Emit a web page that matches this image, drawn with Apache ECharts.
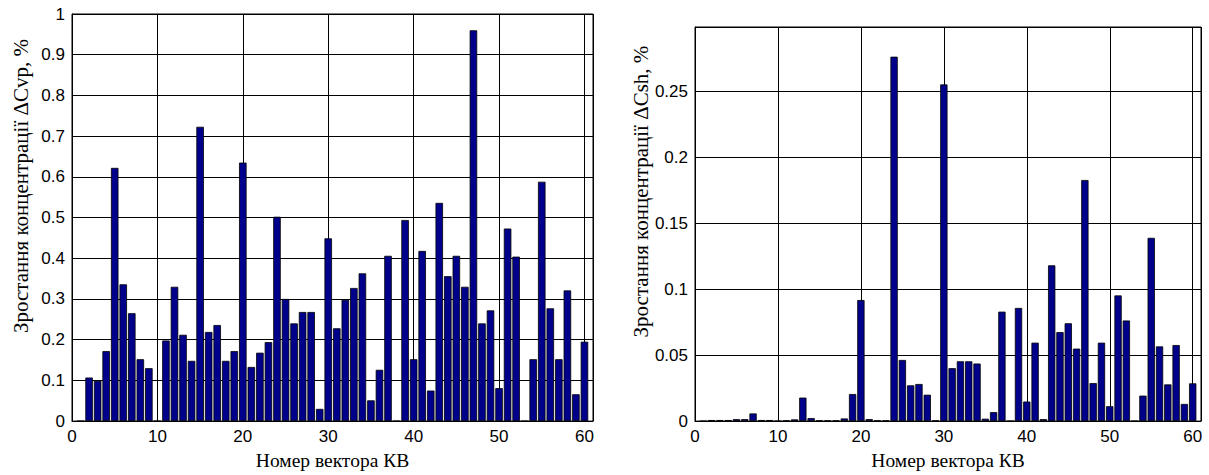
<!DOCTYPE html>
<html>
<head>
<meta charset="utf-8">
<script src="https://cdn.jsdelivr.net/npm/echarts@6/dist/echarts.min.js"></script>
<style>
html,body{margin:0;padding:0;background:#fff;}
#chart{width:1209px;height:475px;}
</style>
</head>
<body>
<div id="chart"></div>
<script>
// Vector numbers (x categories)
var vectorNumbers = [1,2,3,4,5,6,7,8,9,10,11,12,13,14,15,16,17,18,19,20,
  21,22,23,24,25,26,27,28,29,30,31,32,33,34,35,36,37,38,39,40,
  41,42,43,44,45,46,47,48,49,50,51,52,53,54,55,56,57,58,59,60];

// Left chart: growth of concentration ΔCvp, %
var dCvp = [0, 0.107, 0.099, 0.172, 0.622, 0.336, 0.265, 0.152, 0.130, 0,
  0.198, 0.330, 0.212, 0.148, 0.723, 0.219, 0.236, 0.148, 0.172, 0.635,
  0.133, 0.168, 0.194, 0.502, 0.300, 0.240, 0.268, 0.268, 0.030, 0.449,
  0.228, 0.298, 0.327, 0.363, 0.051, 0.126, 0.406, 0, 0.494, 0.152,
  0.418, 0.075, 0.536, 0.356, 0.406, 0.330, 0.960, 0.240, 0.272, 0.081,
  0.473, 0.404, 0, 0.152, 0.588, 0.277, 0.152, 0.321, 0.066, 0.195];

// Right chart: growth of concentration ΔCsh, %
var dCsh = [0, 0.0008, 0.0008, 0.0008, 0.0015, 0.0015, 0.0058, 0.0008, 0.0008, 0,
  0.0005, 0.0013, 0.0178, 0.0023, 0.0005, 0.0005, 0.0005, 0.0020, 0.0205, 0.0917,
  0.0015, 0.0005, 0.0005, 0.276, 0.0463, 0.0271, 0.0281, 0.0200, 0.0005, 0.255,
  0.0401, 0.0453, 0.0453, 0.0436, 0.0018, 0.0068, 0.0829, 0, 0.0857, 0.0148,
  0.0594, 0.0015, 0.118, 0.0674, 0.0741, 0.0549, 0.1826, 0.0288, 0.0594, 0.0113,
  0.0952, 0.0762, 0, 0.0193, 0.1388, 0.0566, 0.0278, 0.0576, 0.013, 0.0286];

var xTickLabels = [0, 10, 20, 30, 40, 50, 60];
var leftYTicks = [0, 0.1, 0.2, 0.3, 0.4, 0.5, 0.6, 0.7, 0.8, 0.9, 1];
var rightYTicks = [0, 0.05, 0.1, 0.15, 0.2, 0.25];

var xTitle = 'Номер вектора КВ';
var leftYTitle = 'Зростання концентрації ΔCvp, %';
var rightYTitle = 'Зростання концентрації ΔCsh, %';

function pairs(vals) {
  return vectorNumbers.map(function (x, i) { return [x, vals[i]]; });
}

var sans = '"Liberation Sans", Arial, sans-serif';
var serif = '"Liberation Serif", "Times New Roman", serif';

function xAxis(gridIndex) {
  return {
    type: 'value', gridIndex: gridIndex, min: 0, max: 61, interval: 10,
    name: xTitle, nameLocation: 'middle', nameGap: 27,
    nameTextStyle: {fontFamily: serif, fontSize: 19.5, color: '#000'},
    axisLine: {show: true, onZero: false, lineStyle: {color: '#000', width: 1}},
    axisTick: {show: true, inside: true, length: 5, lineStyle: {color: '#000'}},
    axisLabel: {
      fontFamily: sans, fontSize: 17, color: '#000', margin: 7,
      formatter: function (v) { return xTickLabels.indexOf(v) >= 0 ? String(v) : ''; }
    },
    splitLine: {show: true, lineStyle: {color: '#000', width: 1}}
  };
}

function yAxis(gridIndex, max, interval, ticks, title, gap, shiftPad) {
  return {
    type: 'value', gridIndex: gridIndex, min: 0, max: max, interval: interval,
    name: title, nameLocation: 'middle', nameGap: gap,
    nameTextStyle: {fontFamily: serif, fontSize: 21, color: '#000', padding: [0, 0, 0, shiftPad]},
    axisLine: {show: true, lineStyle: {color: '#000', width: 1}},
    axisTick: {show: true, inside: true, length: 5, lineStyle: {color: '#000'}},
    axisLabel: {
      fontFamily: sans, fontSize: 17, color: '#000', margin: 7,
      formatter: function (v) {
        for (var i = 0; i < ticks.length; i++) {
          if (Math.abs(ticks[i] - v) < 1e-9) return String(ticks[i]);
        }
        return '';
      }
    },
    splitLine: {show: true, lineStyle: {color: '#000', width: 1}}
  };
}

var barStyle = {color: '#00008B', borderColor: '#000', borderWidth: 0.8};

var chart = echarts.init(document.getElementById('chart'), null, {renderer: 'svg'});
chart.setOption({
  backgroundColor: '#fff',
  animation: false,
  grid: [
    {left: 72, right: 616, top: 14, bottom: 52, show: true, borderColor: '#000', borderWidth: 1, backgroundColor: '#fff'},
    {left: 695, right: 8, top: 27, bottom: 51, show: true, borderColor: '#000', borderWidth: 1, backgroundColor: '#fff'}
  ],
  xAxis: [xAxis(0), xAxis(1)],
  yAxis: [
    yAxis(0, 1, 0.1, leftYTicks, leftYTitle, 41, 63),
    yAxis(1, 0.2985, 0.05, rightYTicks, rightYTitle, 38, 65)
  ],
  series: [
    {type: 'bar', xAxisIndex: 0, yAxisIndex: 0, data: pairs(dCvp), barWidth: '88%', itemStyle: barStyle},
    {type: 'bar', xAxisIndex: 1, yAxisIndex: 1, data: pairs(dCsh), barWidth: '88%', itemStyle: barStyle}
  ]
});
</script>
</body>
</html>
